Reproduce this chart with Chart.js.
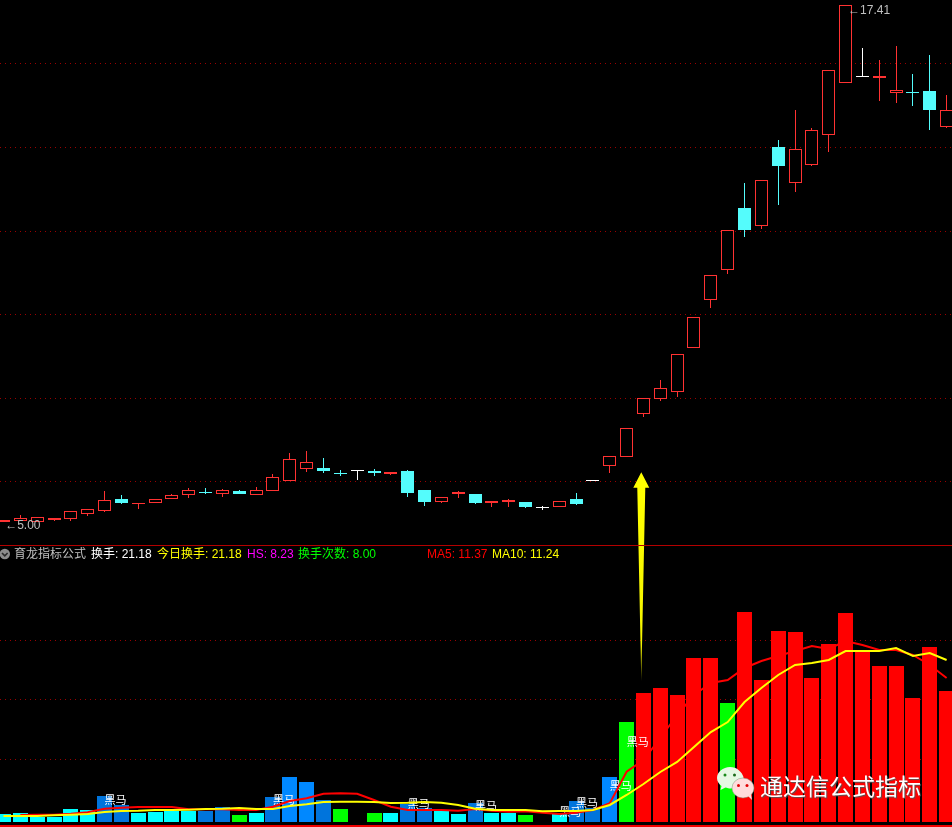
<!DOCTYPE html>
<html lang="zh">
<head>
<meta charset="utf-8">
<title>育龙指标公式</title>
<style>
  html, body { margin: 0; padding: 0; background: #000; overflow: hidden; }
  #escena { position: relative; width: 952px; height: 827px; }
  #grafico { position: absolute; left: 0; top: 0; }
  .sep { position: absolute; left: 0; width: 952px; }
  .tx { position: absolute; top: 546px; line-height: 16px; font-size: 12px; white-space: nowrap;
        font-family: "Liberation Sans", "Noto Sans CJK SC", sans-serif; }
  #marca { position: absolute; left: 760px; top: 768px; line-height: 34px; font-size: 23px; color: #fff;
           font-family: "Noto Sans CJK SC", sans-serif; text-shadow: 1px 1px 1px #555; white-space: nowrap; }
  #logo { position: absolute; left: 715px; top: 766px; }
  #flecha { position: absolute; left: 0; top: 548px; }
</style>
<script src="https://cdn.jsdelivr.net/npm/chart.js@4/dist/chart.umd.min.js"></script>
</head>
<body>
<div id="escena">
  <canvas id="grafico" width="952" height="827"></canvas>
  <div class="sep" style="top:545px;height:1px;background:#b40000"></div>
  <div class="sep" style="top:825px;height:2px;background:#f00000"></div>
  <svg id="flecha" width="11" height="12" viewBox="0 0 11 12">
    <circle cx="4.8" cy="6" r="5.2" fill="#8c8c8c"/>
    <path d="M2 5 L4.8 7.8 L7.6 5" fill="none" stroke="#2a2a2a" stroke-width="1.6"/>
  </svg>
  <span class="tx" style="left:14px;color:#c0c0c0">育龙指标公式</span>
  <span class="tx" style="left:91px;color:#fff">换手: 21.18</span>
  <span class="tx" style="left:157px;color:#ffff00">今日换手: 21.18</span>
  <span class="tx" style="left:247px;color:#ff00ff">HS: 8.23</span>
  <span class="tx" style="left:298px;color:#00ff00">换手次数: 8.00</span>
  <span class="tx" style="left:427px;color:#ff0000">MA5: 11.37</span>
  <span class="tx" style="left:492px;color:#ffff00">MA10: 11.24</span>
  <svg id="logo" width="44" height="38" viewBox="0 0 44 38">
    <path d="M15 1 C8 1 2 6 2 12 C2 15.5 4 18 6.5 20 L5.5 24 L10.5 21.5 C12 22 14 22.5 16 22.5 C22 22 29 17 28.5 11 C27 6 22 1 15 1 Z" fill="#e6f8e4"/>
    <circle cx="10" cy="9" r="1.5" fill="#1a8a1a"/>
    <circle cx="19.5" cy="9" r="1.5" fill="#1a6a1a"/>
    <ellipse cx="28" cy="22" rx="11" ry="10" fill="#ffdcdc" stroke="#7a9a7a" stroke-width="0.5"/>
    <path d="M33 30 L37 34 L36 28 Z" fill="#ffdcdc"/>
    <circle cx="23.5" cy="19.5" r="1.5" fill="#e00000"/>
    <circle cx="32" cy="19.5" r="1.5" fill="#e00000"/>
  </svg>
  <div id="marca">通达信公式指标</div>
</div>

<script>
// K-line values
const opens = [5.05,5.07,5.05,5.09,5.12,5.24,5.31,5.59,5.46,5.49,5.58,5.68,5.75,5.71,5.78,5.68,5.79,6.03,6.32,6.33,
  6.21,6.26,6.26,6.20,6.26,5.81,5.53,5.71,5.71,5.49,5.51,5.52,5.38,5.39,5.59,6.02,6.39,6.60,7.63,7.99,
  8.14,9.21,10.36,11.08,12.55,12.13,14.01,13.14,13.59,14.31,15.55,15.68,15.67,15.31,15.32,15.35,14.50];
const closes = [5.09,5.13,5.16,5.13,5.30,5.35,5.56,5.50,5.50,5.59,5.68,5.80,5.74,5.80,5.70,5.80,6.11,6.54,6.47,6.25,
  6.20,6.26,6.22,6.24,5.74,5.53,5.63,5.75,5.50,5.54,5.56,5.41,5.38,5.54,5.48,6.02,6.61,7.28,8.00,8.24,
  9.05,9.94,10.94,12.02,12.03,13.22,13.57,13.96,14.41,15.85,17.41,15.68,15.70,15.37,15.31,14.90,14.89];
const highs = [5.09,5.21,5.16,5.13,5.30,5.35,5.78,5.69,5.50,5.59,5.71,5.86,5.86,5.83,5.81,5.88,6.19,6.69,6.74,6.57,
  6.29,6.29,6.31,6.24,6.29,5.81,5.63,5.78,5.71,5.54,5.59,5.52,5.43,5.54,5.74,6.02,6.61,7.28,8.00,8.44,
  9.05,9.94,10.94,12.02,13.15,13.22,14.18,14.90,14.47,15.85,17.41,16.38,16.09,16.43,15.76,16.21,15.26];
const lows = [5.05,5.07,5.05,5.07,5.07,5.19,5.29,5.48,5.34,5.49,5.58,5.62,5.70,5.64,5.70,5.68,5.79,6.03,6.24,6.21,
  6.15,6.05,6.13,6.17,5.65,5.43,5.50,5.62,5.48,5.41,5.41,5.38,5.32,5.39,5.45,6.02,6.22,6.60,7.56,7.94,
  8.02,9.21,10.15,10.98,11.87,12.06,12.63,12.94,13.57,13.90,15.55,15.68,15.11,15.07,14.99,14.42,14.47];

// turnover columns, their colour class, and the two moving averages
const turnover = [1.31,1.48,0.82,0.82,2.13,1.97,4.26,2.79,1.48,1.64,1.80,1.80,1.80,2.46,1.15,1.48,4.10,7.38,6.56,3.61,
  2.13,0,1.48,1.48,2.95,2.30,1.80,1.31,3.11,1.48,1.48,1.15,0,1.48,3.44,2.30,7.38,16.39,21.15,21.97,
  20.82,26.89,26.89,19.51,34.43,23.28,31.31,31.15,23.61,29.18,34.26,28.03,25.57,25.57,20.33,28.69,21.48];
const turnoverKinds = ['c','c','c','c','c','c','b','b','c','c','c','c','b','b','g','c','b','B','B','b',
  'g','g','g','c','b','b','c','c','b','c','c','g','g','c','b','b','B','g','r','r',
  'r','r','r','g','r','r','r','r','r','r','r','r','r','r','r','r','r'];
const ma5 = [null,1.15,1.20,1.20,1.36,1.59,2.18,2.34,2.46,2.46,2.46,2.08,2.08,2.08,1.97,1.97,2.51,3.44,3.89,4.64,
  4.70,4.64,3.61,2.51,1.97,1.97,1.97,1.85,2.13,1.85,1.69,1.75,1.52,1.31,1.52,1.97,3.07,8.25,10.16,13.77,
  17.54,20.82,22.79,23.28,25.25,26.39,27.21,28.03,28.85,28.36,29.67,29.02,28.20,28.20,27.38,25.74,23.61];
const ma10 = [0.98,0.98,0.98,1.10,1.20,1.31,1.64,1.80,1.85,1.97,1.97,2.02,2.13,2.18,2.30,2.13,2.13,2.62,2.90,3.28,
  3.33,3.33,3.28,3.11,3.16,3.28,3.16,2.79,2.18,1.97,1.97,1.97,1.75,1.80,1.80,1.97,2.79,4.43,6.23,8.20,
  9.84,12.30,14.75,16.39,19.67,21.97,24.10,25.74,26.07,26.56,28.03,28.03,28.03,28.52,27.21,27.70,26.56];

// axis lines
const priceTicks = [6, 8, 10, 12, 14, 16];
const turnoverTicks = [10.2, 20, 29.8];

// 黑马 signal labels (bar index + height on the turnover axis)
const signalIdx = [6, 16, 24, 28, 33, 34, 36, 37];
const signalVal = [3.6, 3.6, 2.9, 2.6, 1.6, 3.1, 6.0, 13.1];

// high / low notes on the price panel
const noteTexts = ['←5.00', '←17.41'];
const noteIdx = [0.1, 50.15];
const notePrices = [5.09, 17.41];

const COLORES = { red: '#ff3232', cyan: '#54fcfc', white: '#ffffff' };
const COL_VOL = { c: '#00ffff', b: '#0074dc', B: '#0088ff', g: '#00ff00', r: '#ff0000' };

function colorVela(i) {
  if (closes[i] > opens[i]) return COLORES.red;
  if (closes[i] < opens[i]) return COLORES.cyan;
  return COLORES.white;
}

// snap the bars to whole pixels so the candles stay crisp like the original
const ajustePixel = {
  id: 'ajustePixel',
  afterDatasetsUpdate(chart) {
    chart.data.datasets.forEach((ds, n) => {
      if (ds.type !== 'bar') return;
      chart.getDatasetMeta(n).data.forEach((el) => {
        el.x = Math.floor(el.x) + 0.5;
        let y = Math.round(el.y);
        const base = Math.round(el.base);
        if (y === base && ds.label === 'cuerpo') y = base - 1;
        el.y = y;
        el.base = base;
      });
    });
  }
};

// 黑马 labels go between the columns and the average lines
const etiquetas = {
  id: 'etiquetas',
  afterDatasetDraw(chart, args) {
    if (chart.data.datasets[args.index].label !== 'turnover') return;
    const { ctx, scales } = chart;
    ctx.save();
    ctx.fillStyle = '#fff';
    ctx.font = '11px "Noto Sans CJK SC", sans-serif';
    ctx.textAlign = 'left';
    ctx.textBaseline = 'middle';
    signalIdx.forEach((idx, k) => {
      ctx.fillText('黑马', scales.x.getPixelForValue(idx), scales.yVol.getPixelForValue(signalVal[k]));
    });
    ctx.restore();
  },
  afterDraw(chart) {
    const { ctx, scales } = chart;
    ctx.save();
    ctx.fillStyle = '#c0c0c0';
    ctx.font = '12px "Liberation Sans", sans-serif';
    ctx.textAlign = 'left';
    ctx.textBaseline = 'top';
    noteTexts.forEach((t, k) => {
      ctx.fillText(t, scales.x.getPixelForValue(noteIdx[k]), scales.yPrice.getPixelForValue(notePrices[k]));
    });
    ctx.restore();
  }
};

// yellow arrow running from the turnover panel up to the breakout candle
const flecha = {
  id: 'flecha',
  afterDraw(chart) {
    const { ctx, scales } = chart;
    const x = scales.x.getPixelForValue(37.87);
    const punta = scales.yPrice.getPixelForValue(6.23);
    const cuello = scales.yPrice.getPixelForValue(5.86);
    const pie = scales.yVol.getPixelForValue(23.1);
    const g = ctx.createLinearGradient(0, cuello, 0, pie);
    g.addColorStop(0, '#ffff00');
    g.addColorStop(0.8, '#f4f400');
    g.addColorStop(1, '#8a8a00');
    ctx.save();
    ctx.fillStyle = g;
    ctx.beginPath();
    ctx.moveTo(x, punta);
    ctx.lineTo(x + 8, cuello);
    ctx.lineTo(x + 4, cuello);
    ctx.lineTo(x, pie);
    ctx.lineTo(x - 4, cuello);
    ctx.lineTo(x - 8, cuello);
    ctx.closePath();
    ctx.fill();
    ctx.restore();
  }
};

const rejilla = { color: '#9a0000', lineWidth: 1, drawTicks: false };
const borde = { display: false, dash: [1, 4] };

new Chart(document.getElementById('grafico'), {
  data: {
    datasets: [
      {
        type: 'bar', label: 'mecha', yAxisID: 'yPrice', order: 6, grouped: false, barThickness: 1, inflateAmount: 0,
        data: highs.map((h, i) => ({ x: i, y: [lows[i], h] })),
        backgroundColor: highs.map((h, i) => colorVela(i))
      },
      {
        type: 'bar', label: 'cuerpo', yAxisID: 'yPrice', order: 5, grouped: false, barThickness: 13, minBarLength: 1, inflateAmount: 0,
        data: opens.map((o, i) => ({ x: i, y: [o, closes[i]] })),
        backgroundColor: opens.map((o, i) => closes[i] > o ? '#000000' : colorVela(i)),
        borderColor: opens.map((o, i) => colorVela(i)),
        borderWidth: 1,
        borderSkipped: false
      },
      {
        type: 'bar', label: 'turnover', yAxisID: 'yVol', order: 4, grouped: false, barThickness: 15, inflateAmount: 0,
        data: turnover.map((v, i) => ({ x: i, y: v })),
        backgroundColor: turnoverKinds.map((k) => COL_VOL[k])
      },
      {
        type: 'line', label: 'MA5', yAxisID: 'yVol', order: 3,
        data: ma5.map((v, i) => ({ x: i, y: v })),
        borderColor: '#ff0000', borderWidth: 2, pointRadius: 0, tension: 0
      },
      {
        type: 'line', label: 'MA10', yAxisID: 'yVol', order: 2,
        data: ma10.map((v, i) => ({ x: i, y: v })),
        borderColor: '#ffff00', borderWidth: 2, pointRadius: 0, tension: 0
      }
    ]
  },
  options: {
    responsive: false,
    animation: false,
    layout: { padding: 0 },
    plugins: { legend: { display: false }, tooltip: { enabled: false } },
    scales: {
      x: { type: 'linear', display: false, offset: false, min: -0.208, max: 56.32 },
      yVol: {
        type: 'linear', position: 'left', stack: 'paneles', stackWeight: 282,
        min: -0.82, max: 45.41,
        afterBuildTicks: (s) => { s.ticks = turnoverTicks.map((v) => ({ value: v })); },
        ticks: { display: false },
        border: borde,
        grid: rejilla
      },
      yPrice: {
        type: 'linear', position: 'left', stack: 'paneles', stackWeight: 545,
        min: 4.49, max: 17.53,
        afterBuildTicks: (s) => { s.ticks = priceTicks.map((v) => ({ value: v })); },
        ticks: { display: false },
        border: borde,
        grid: rejilla
      }
    }
  },
  plugins: [ajustePixel, etiquetas, flecha]
});
</script>
</body>
</html>
